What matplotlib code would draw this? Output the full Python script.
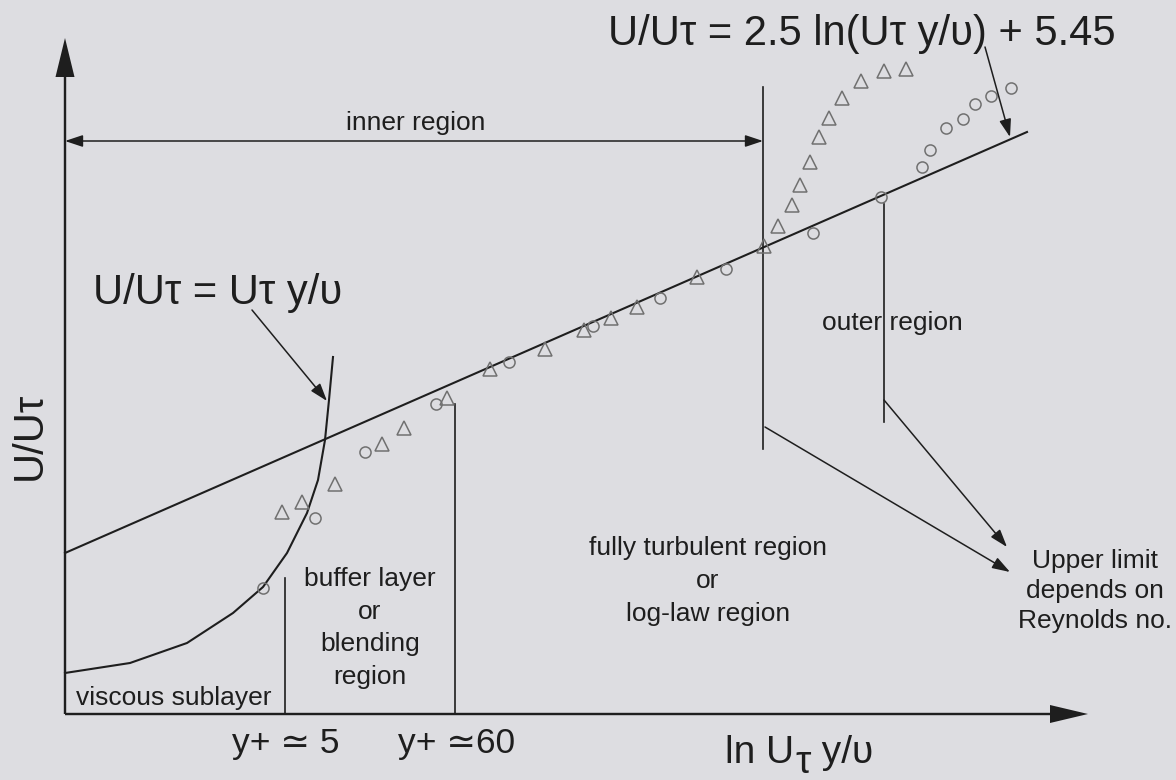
import matplotlib
matplotlib.use("Agg")
import matplotlib.pyplot as plt

plt.rcParams['font.family'] = ['Liberation Sans', 'DejaVu Sans']

# sketch units: origin at the axes corner, one unit per pixel
tri_x = [217, 237, 270, 317, 339, 382, 425, 480, 519, 546, 572, 632, 699,
         713, 727, 735, 745, 754, 764, 777, 796, 819, 841]
tri_y = [202, 212, 230, 270, 286, 316, 345, 365, 384, 396, 407, 437, 468,
         488, 509, 529, 552, 577, 596, 616, 633, 643, 645]

circ_x = [198, 250, 300, 371, 444, 528, 595, 661, 748, 816, 857, 865, 881,
          898, 910, 926, 946]
circ_y = [126, 196, 262, 310, 352, 388, 416, 445, 481, 517, 547, 564, 586,
          595, 610, 618, 626]

# linear sublayer curve U+ = y+ drawn on the log axis
visc_x = [0, 65, 122, 168, 198, 222, 242, 253, 260, 264, 268]
visc_y = [41, 51, 71, 101, 127, 161, 201, 234, 274, 314, 357]

# log law line end points
log_x = [0, 962]
log_y = [161, 582]

# region boundaries: x, bottom, top
bounds = [(220, 0, 136), (390, 0, 310), (698, 265, 627), (819, 292, 510)]

ink = '#1e1e1e'
mark = '#707070'
bg = '#dddde1'

fig = plt.figure(figsize=(11.76, 7.8), dpi=100, facecolor=bg)
ax = fig.add_axes([0, 0, 1, 1])
ax.set_facecolor(bg)
ax.set_xlim(-65, 1111)
ax.set_ylim(-66, 714)
ax.axis('off')

# axes with filled arrow heads
ax.arrow(0, 0, 0, 676, width=2.4, head_width=19, head_length=39,
         length_includes_head=True, fc=ink, ec=ink, lw=0)
ax.arrow(0, 0, 1023, 0, width=2.4, head_width=18, head_length=38,
         length_includes_head=True, fc=ink, ec=ink, lw=0)

ax.plot(log_x, log_y, color=ink, lw=1.5)
ax.plot(visc_x, visc_y, color=ink, lw=1.5)

for bx, b0, b1 in bounds:
    ax.plot([bx, bx], [b0, b1], color=ink, lw=1.2)

ax.plot(tri_x, tri_y, ls='none', marker='^', ms=10, mfc='none', mec=mark, mew=1.1)
ax.plot(circ_x, circ_y, ls='none', marker='o', ms=8, mfc='none', mec=mark, mew=1.1)

small_head = dict(arrowstyle='-|>,head_length=0.6,head_width=0.2',
                  mutation_scale=18, color=ink, lw=1.1, shrinkA=0, shrinkB=0)
both_head = dict(arrowstyle='<|-|>,head_length=0.6,head_width=0.2',
                 mutation_scale=18, color=ink, lw=1.1, shrinkA=0, shrinkB=0)

ax.annotate('', xy=(698, 573), xytext=(0, 573), arrowprops=both_head)
ax.annotate('', xy=(945, 577), xytext=(920, 667), arrowprops=small_head)
ax.annotate('', xy=(262, 313), xytext=(187, 404), arrowprops=small_head)
ax.annotate('', xy=(945, 142), xytext=(700, 287), arrowprops=small_head)
ax.annotate('', xy=(942, 167), xytext=(819, 314), arrowprops=small_head)

big = 30
small = 19

ax.text(797, 680, 'U/Uτ = 2.5 ln(Uτ y/υ) + 5.45', fontsize=big, color=ink,
        ha='center', va='center')
ax.text(153, 421, 'U/Uτ = Uτ y/υ', fontsize=big, color=ink,
        ha='center', va='center')
ax.text(-35, 278, 'U/Uτ', fontsize=30, color=ink, rotation=90,
        ha='center', va='center')

ax.text(351, 591, 'inner region', fontsize=small, color=ink, ha='center', va='center')
ax.text(109, 16, 'viscous sublayer', fontsize=small, color=ink, ha='center', va='center')
ax.text(305, 86, 'buffer layer\nor\nblending\nregion', fontsize=small, color=ink,
        ha='center', va='center', linespacing=1.45)
ax.text(643, 133, 'fully turbulent region\nor\nlog-law region', fontsize=small,
        color=ink, ha='center', va='center', linespacing=1.45)
ax.text(827, 391, 'outer region', fontsize=small, color=ink, ha='center', va='center')
ax.text(1030, 123, 'Upper limit\ndepends on\nReynolds no.', fontsize=small,
        color=ink, ha='center', va='center', linespacing=1.3)

ax.text(221, -30, 'y+ ≃ 5', fontsize=25.5, color=ink, ha='center', va='center')
ax.text(392, -30, 'y+ ≃60', fontsize=25.5, color=ink, ha='center', va='center')

# x label with subscript tau
t1 = ax.text(660, -57, 'ln U', fontsize=28, color=ink, ha='left', va='bottom')
t2 = ax.annotate('τ', xy=(1, 0), xycoords=t1, xytext=(1, -7),
                 textcoords='offset points', fontsize=28, color=ink,
                 ha='left', va='bottom')
ax.annotate(' y/υ', xy=(1, 0), xycoords=t2, xytext=(0, 7),
            textcoords='offset points', fontsize=28, color=ink,
            ha='left', va='bottom')

fig.savefig('out.png', dpi=100, facecolor=bg)
